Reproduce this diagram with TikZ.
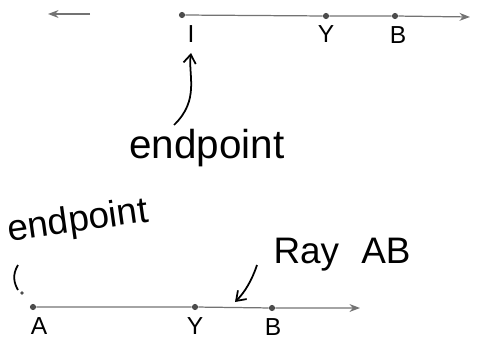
\documentclass[tikz,border=0pt]{standalone}
\usepackage{fontspec}
\setmainfont{Liberation Sans}
\usetikzlibrary{arrows.meta}
\begin{document}
\begin{tikzpicture}[x=0.02cm, y=-0.02cm,
      ray/.style={draw=black!55, line width=0.7pt},
      pt/.style={circle, fill=black!70, inner sep=0pt, minimum size=3.5pt},
      lbl/.style={font=\fontsize{14}{16}\selectfont, inner sep=1pt},
      word/.style={font=\fontsize{21}{24}\selectfont},
      pointer/.style={line width=1pt, -{Straight Barb[length=5pt,width=7pt]}}]
    \useasboundingbox (0,0) rectangle (479,341);
    % top line
    \node[pt] (i1) at (182,15) {};
    \node[pt] (y1) at (326,16) {};
    \node[pt] (b1) at (395,16) {};
    \coordinate (r1) at (470,17);
    \coordinate (l1a) at (90,14);
    \coordinate (l1b) at (48,14);
    \draw[ray, -{Stealth[length=6pt]}] (l1a) -- (l1b);
    \draw[ray, -{Stealth[length=6pt]}] (i1) -- (y1) -- (b1) -- (r1);
    \node[lbl] (li) at (191,34) {I};
    \node[lbl] (ly) at (326,34) {Y};
    \node[lbl] (lb) at (398,35) {B};
    \node[word, font=\fontsize{23}{26}\selectfont] (end1) at (207,148) {endpoint};
    \draw[pointer] (174,125) .. controls (200,100) and (188,75) .. (191,53);
    % bottom line
    \node[pt] (a2) at (33,307) {};
    \node[pt] (y2) at (195,307) {};
    \node[pt] (b2) at (272,308) {};
    \coordinate (r2) at (360,308);
    \draw[ray, -{Stealth[length=6pt]}] (a2) -- (y2) -- (b2) -- (r2);
    \node[lbl] (la) at (39,326) {A};
    \node[lbl] (ly2) at (195,326) {Y};
    \node[lbl] (lb2) at (273,327) {B};
    \node[word, rotate=8] (end2) at (78,222) {endpoint};
    \draw[line width=1pt] (18,265) .. controls (12,275) and (14,283) .. (18,290);
    \node[circle, fill=black!70, inner sep=0pt, minimum size=2pt] (tip) at (22,293) {};
    \node[word] (ray) at (342,255) {Ray\hspace{0.6em}AB};
    \draw[pointer] (257,265) .. controls (252,280) and (245,292) .. (235,302);
  \end{tikzpicture}
\end{document}
